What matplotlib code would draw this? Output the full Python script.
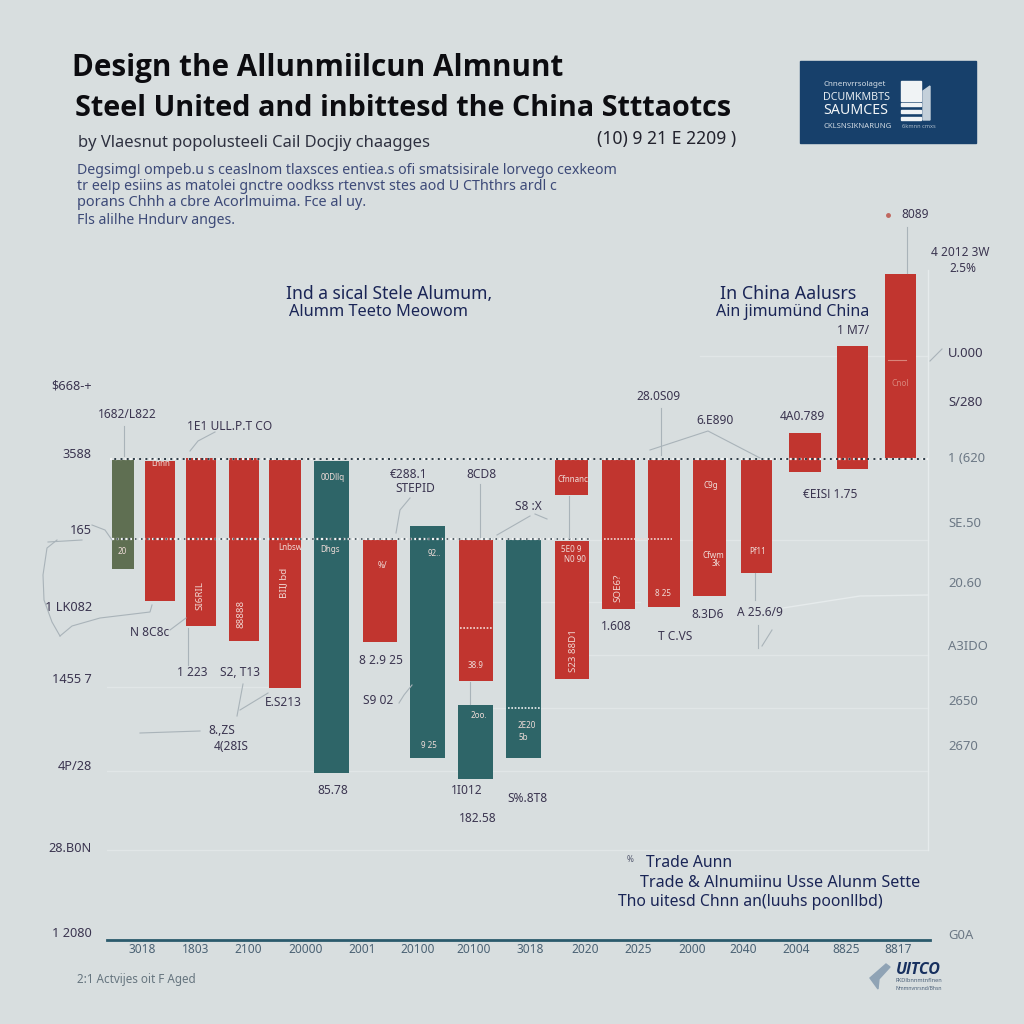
import matplotlib
matplotlib.use("Agg")
import matplotlib.pyplot as plt
from matplotlib.patches import Rectangle, Polygon

plt.rcParams['font.family'] = ['Noto Sans', 'DejaVu Sans']

#  bars: value at top and bottom, baseline is 0
bar_tops = [-1, -2, 1, 1, -1, -2, -81, -67, -81, -246, -81, -82, -1, -1, -1, -1, -1, 26, 113, 185]
bar_bottoms = [-110, -142, -167, -182, -229, -314, -183, -299, -222, -320, -299, -220, -36, -150, -148, -137, -114, -13, -10, 1]
bar_kinds = ['o', 'r', 'r', 'r', 'r', 't', 'r', 't', 'r', 't', 't', 'r', 'r', 'r', 'r', 'r', 'r', 'r', 'r', 'r']

x_labels = ['3018', '1803', '2100', '20000', '2001', '20100', '20100', '3018',
            '2020', '2025', '2000', '2040', '2004', '8825', '8817']
left_ticks = [74, 6, -70, -147, -219, -306, -388, -473]
left_labels = ['$668-+', '3588', '165', '1 LK082', '1455 7', '4P/28', '28.B0N', '1 2080']
right_ticks = [107, 58, 2, -63, -123, -186, -241, -286, -475]
right_labels = ['U.000', 'S/280', '1 (620', 'SE.50', '20.60', 'A3IDO', '2650', '2670', 'G0A']

title_lines = ['Design the Allunmiilcun Almnunt', 'Steel United and inbittesd the China Stttaotcs']
subtitle = 'by Vlaesnut popolusteeli Cail Docjiy chaagges'
year_note = '(10) 9 21 E 2209 )'
para_lines = ['Degsimg! ompeb.u s ceaslnom tlaxsces entiea.s ofi smatsisirale lorvego cexkeom',
              'tr ee!p esiins as matolei gnctre oodkss rtenvst stes aod U CThthrs ardl c',
              'porans Chhh a cbre Acorlmuima. Fce al uy.',
              'Fls alilhe Hndurv anges.']

#  layout, everything below is in reference pixels
bar_x = [123, 160, 201, 244, 285, 332, 380, 428, 476, 476, 524, 572, 572, 619, 664, 710, 757, 805, 853, 901]
bar_w = [22, 30, 30, 30, 32, 35, 34, 35, 34, 35, 35, 34, 33, 33, 32, 33, 31, 32, 31, 31]
tick_x = [142, 196, 248, 306, 362, 418, 474, 530, 585, 638, 692, 743, 796, 846, 898]

BG = '#d8dedf'
RED = '#c1352f'
TEAL = '#2e6568'
OLIVE = '#5f6f52'
NAVY = '#17406b'
INK = '#3b3550'
LABEL = '#1a2556'
colors = {'r': RED, 't': TEAL, 'o': OLIVE}

fig = plt.figure(figsize=(10.24, 10.24), dpi=100, facecolor=BG)
ax = fig.add_axes([107/1024, 1-940/1024, 823/1024, 710/1024], facecolor='none')
ax.set_xlim(107, 930)
ax.set_ylim(-481, 229)

#  faint grid, (value, x start, x end)
for v, x0, x1 in [(103, 700, 928), (-81, 590, 928), (-143, 490, 640), (-196, 560, 928),
                  (-228, 90, 300), (-249, 470, 928), (-312, 105, 928), (-391, 100, 928)]:
    ax.plot([x0, x1], [v, v], color='#e1e6e7', lw=1, zorder=1)
ax.plot([928, 928], [189, -391], color='#e6ebec', lw=1, zorder=1)

ax.bar(bar_x, [t-b for t, b in zip(bar_tops, bar_bottoms)], width=bar_w, bottom=bar_bottoms,
       color=[colors[k] for k in bar_kinds], zorder=2)

#  dotted reference lines over the bars
ax.plot([110, 928], [0, 0], color='#f2f4f4', lw=1.6, ls=(0, (1, 1.2)), zorder=3)
ax.plot([110, 928], [0, 0], color='#2c3a45', lw=1.4, ls=(1, (1, 2.2)), zorder=3)
ax.plot([112, 590], [-80, -80], color='#f2f4f4', lw=1.6, ls=(0, (1, 1)), zorder=3)
ax.plot([112, 590], [-80, -80], color='#2c3a45', lw=1.1, ls=(1, (1, 3)), zorder=3)
ax.plot([460, 492], [-169, -169], color='#f4dcd8', lw=1.2, ls=(0, (1, 1)), zorder=3)
ax.plot([508, 541], [-249, -249], color='#eef1f1', lw=1.2, ls=(0, (1, 1)), zorder=3)
ax.plot([604, 672], [-80, -80], color='#f0d8d4', lw=1.2, ls=(0, (1, 1)), zorder=3)

for s in ['top', 'left', 'right']:
    ax.spines[s].set_visible(False)
ax.spines['bottom'].set_color('#2b5a6c')
ax.spines['bottom'].set_linewidth(2)

ax.set_xticks(tick_x, x_labels)
ax.tick_params(axis='x', length=0, pad=2.5, labelsize=8.6, labelcolor='#4b6274')
ax.set_yticks(left_ticks, left_labels)
ax.tick_params(axis='y', length=0, pad=11, labelsize=9.2, labelcolor=INK)

ax2 = ax.twinx()
ax2.set_ylim(ax.get_ylim())
ax2.set_yticks(right_ticks, right_labels)
ax2.tick_params(axis='y', length=0, pad=13, labelsize=9.4, labelcolor='#6c7885')
ax2.get_yticklabels()[0].set_color(INK)
ax2.get_yticklabels()[1].set_color(INK)
for s in ax2.spines.values():
    s.set_visible(False)
ax2.patch.set_visible(False)

#  page overlay in pixel coordinates for the loose text
page = fig.add_axes([0, 0, 1, 1], facecolor='none')
page.set_xlim(0, 1024)
page.set_ylim(1024, 0)
page.axis('off')
rend = fig.canvas.get_renderer()


def put(x0, x1, y, s, color=INK, size=8.5, **kw):
    #  text resized so it spans x0 to x1
    t = page.text(x0, y, s, color=color, fontsize=size, va='center', ha='left', zorder=6, **kw)
    w = t.get_window_extent(rend).width
    t.set_fontsize(size*(x1-x0)/w)
    return t


def tag(x0, x1, y, s, color=INK, size=8.6):
    #  fixed size text centred on the span
    page.text((x0+x1)/2, y, s, color=color, fontsize=size, va='center', ha='center', zorder=6)


def wire(pts, color='#a9b3b9', lw=0.8):
    page.plot([p[0] for p in pts], [p[1] for p in pts], color=color, lw=lw, zorder=5)


#  headings
put(72, 563, 68, title_lines[0], color='#0c0c10', size=24, fontweight='bold', family='Open Sans')
put(75, 731, 108, title_lines[1], color='#0c0c10', size=24, fontweight='bold', family='Open Sans')
put(78, 433, 143, subtitle, color='#2e3140', size=11)
put(597, 736, 139, year_note, color='#23232e', size=11)
for (x1, y), line in zip([(616, 171), (553, 186), (368, 202), (235, 221)], para_lines):
    put(77, x1, y, line, color='#3d4a78', size=10)

#  section labels
put(286, 492, 294, 'Ind a sical Stele Alumum,', color=LABEL, size=10.5)
put(289, 468, 312, 'Alumm Teeto Meowom', color=LABEL, size=10.5)
put(720, 856, 294, 'In China Aalusrs', color=LABEL, size=10.5)
put(716, 869, 312, 'Ain jimumünd China', color=LABEL, size=10.5)
put(646, 732, 863, 'Trade Aunn', color=LABEL, size=10.5)
put(640, 920, 883, 'Trade & Alnumiinu Usse Alunm Sette', color=LABEL, size=10.5)
put(618, 882, 902, 'Tho uitesd Chnn an(luuhs poonllbd)', color=LABEL, size=10.5)
tag(623, 637, 860, '%', color='#555a70', size=6)
put(77, 196, 979, '2:1 Actvijes oit F Aged', color='#66757f', size=9)

#  value callouts around the bars
callouts = [(107, 148, 415, '1682/L822'), (193, 267, 427, '1E1 ULL.P.T CO'),
            (389, 428, 474, '€288.1'), (396, 434, 488, 'STEPID'), (466, 496, 475, '8CD8'),
            (513, 543, 507, 'S8 :X'), (638, 678, 397, '28.0S09'), (693, 737, 420, '6.E890'),
            (779, 826, 417, '4A0.789'), (836, 871, 330, '1 M7/'), (898, 932, 215, '8089'),
            (935, 986, 253, '4 2012 3W'), (948, 977, 268, '2.5%'), (795, 866, 494, '€EIS! 1.75'),
            (134, 166, 633, 'N 8C8c'), (174, 210, 672, '1 223'), (221, 260, 672, 'S2, T13'),
            (264, 302, 703, 'E.S213'), (206, 238, 730, '8.,ZS'), (212, 250, 746, '4(28IS'),
            (315, 350, 790, '85.78'), (362, 400, 660, '8 2.9 25'), (361, 395, 700, 'S9 02'),
            (459, 475, 790, '1I012'), (502, 553, 798, 'S%.8T8'), (459, 496, 818, '182.58'),
            (602, 630, 627, '1.608'), (660, 691, 637, 'T C.VS'), (693, 722, 614, '8.3D6'),
            (735, 784, 613, 'A 25.6/9')]
for x0, x1, y, s in callouts:
    tag(x0, x1, y, s)
page.plot([888], [215], 'o', color='#c0675f', ms=2.5, zorder=5)

wire([(124, 426), (124, 456)])
wire([(190, 451), (198, 441), (215, 432)])
wire([(410, 498), (400, 510), (396, 533)])
wire([(480, 484), (480, 537)])
wire([(497, 535), (530, 516)])
wire([(535, 514), (547, 519)])
wire([(661, 408), (661, 455)])
wire([(650, 450), (708, 431), (760, 458)])
wire([(907, 227), (907, 273)])
wire([(170, 630), (186, 618)])
wire([(188, 628), (188, 665)])
wire([(240, 710), (268, 693)])
wire([(140, 733), (200, 731)])
wire([(237, 716), (243, 684)])
wire([(399, 703), (404, 695), (412, 685)])
wire([(470, 682), (470, 704)])
wire([(569, 496), (569, 538)])
wire([(755, 573), (755, 600)])
wire([(758, 625), (758, 648)])
wire([(762, 646), (772, 630)])
wire([(57, 540), (47, 548), (43, 575), (44, 600), (52, 622), (60, 636)])
wire([(48, 542), (82, 540)])
wire([(60, 636), (72, 626), (100, 618), (150, 612), (152, 605)])
wire([(92, 525), (105, 530), (112, 540)])
wire([(783, 608), (860, 596), (928, 595)], color='#e6ebec', lw=1)
wire([(930, 361), (942, 349)])

#  white text inside the bars
inside = [(117, 128, 552, '20'), (318, 347, 477, '00Dllq'), (318, 342, 549, 'Dhgs'),
          (376, 388, 566, '%/'), (423, 446, 553, '92..'), (420, 437, 745, '9 25'),
          (465, 487, 666, '38.9'), (470, 488, 716, '2oo.'), (514, 540, 726, '2E20'),
          (516, 530, 738, '5b'), (560, 582, 549, '5E0 9'), (563, 586, 559, 'N0 90'),
          (557, 589, 480, 'Cfnnanc'), (654, 672, 594, '8 25'), (281, 299, 547, 'Lnbsw'),
          (150, 172, 464, 'Lnnn'), (705, 722, 555, 'Cfwm'), (710, 722, 564, '3k'),
          (748, 768, 552, 'Pf11'), (700, 722, 485, 'C9g')]
for x0, x1, y, s in inside:
    tag(x0, x1, y, s, color='#efdcd8', size=5.8)
tag(889, 912, 383, 'Cnol', color='#d9857a', size=6)
wire([(888, 360), (906, 360)], color='#d9857a')
for x, y, s in [(200, 596, 'SI6RIL'), (241, 614, '88888'), (284, 583, 'BIIJ bd'),
                (573, 651, 'S23 88D1'), (618, 588, 'SOE6?')]:
    page.text(x, y, s, color='#f0d5d0', fontsize=7, rotation=90, ha='center', va='center', zorder=6)

#  navy badge top right
page.add_patch(Rectangle((800, 61), 176, 82, color=NAVY, zorder=4))
put(823, 886, 84, 'Cnnenvrrsolaget', color='#d5dee6', size=5)
put(823, 890, 98, 'DCUMKMBTS', color='#e5ebf0', size=6.5)
put(823, 888, 111, 'SAUMCES', color='#f2f5f7', size=8)
put(823, 891, 126, 'CKLSNSIKNARUNG', color='#cfd9e2', size=5)
put(902, 936, 126, '6kmnn cmxs', color='#a9b9c8', size=4)
page.add_patch(Rectangle((901, 81), 20, 20, color='#f0f3f5', zorder=5))
for y in [103, 110, 117]:
    page.add_patch(Rectangle((901, y), 20, 3, color='#f0f3f5', zorder=5))
page.add_patch(Polygon([(923, 91), (930, 86), (930, 120), (923, 120)], color='#c4d0da', zorder=5))

#  logo bottom right
page.add_patch(Polygon([(870, 978), (886, 964), (890, 967), (879, 979), (878, 989)], color='#8fa3b5', zorder=5))
put(896, 941, 970, 'UlTCO', color='#17305f', size=13, fontweight='bold', style='italic', family='Open Sans')
put(895, 942, 981, 'FKDlbnnmtnflnen', color='#4a5f78', size=4)
put(895, 942, 988, 'Nmmnvnrsnd/Bhsn', color='#4a5f78', size=3.5)

fig.savefig('out.png', dpi=100, facecolor=BG)
